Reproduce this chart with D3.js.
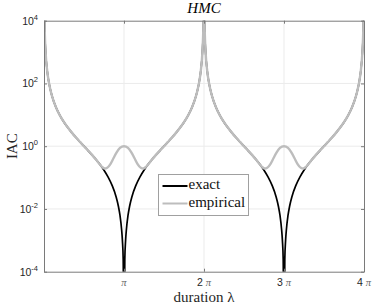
<!DOCTYPE html>
<html>
<head>
<meta charset="utf-8">
<script src="https://cdn.jsdelivr.net/npm/d3@7"></script>
<style>
  body { margin: 0; background: #fff; }
  svg { display: block; }
</style>
</head>
<body>
<div id="chart"></div>
<script>
// frame and plot box (MATLAB style)
const FRAME_WIDTH = 374;
const FRAME_HEIGHT = 304;
const MARGINS = {left: 44, right: 10, top: 20.7, bottom: 32.3};

// data: x in units of pi, IAC
const exactDuration = [0, 0.005, 0.01, 0.02, 0.04, 0.06, 0.08, 0.1, 0.15, 0.2, 0.25, 0.3, 0.35, 0.4, 0.45, 0.5,
  0.55, 0.6, 0.65, 0.7, 0.75, 0.8, 0.85, 0.9, 0.93, 0.95, 0.97, 0.98, 0.99, 1,
  1.01, 1.02, 1.03, 1.05, 1.07, 1.1, 1.15, 1.2, 1.25, 1.3, 1.35, 1.4, 1.45, 1.5,
  1.55, 1.6, 1.65, 1.7, 1.75, 1.8, 1.85, 1.9, 1.92, 1.94, 1.96, 1.98, 1.99, 1.995, 2,
  2.005, 2.01, 2.02, 2.04, 2.06, 2.08, 2.1, 2.15, 2.2, 2.25, 2.3, 2.35, 2.4, 2.45, 2.5,
  2.55, 2.6, 2.65, 2.7, 2.75, 2.8, 2.85, 2.9, 2.93, 2.95, 2.97, 2.98, 2.99, 3,
  3.01, 3.02, 3.03, 3.05, 3.07, 3.1, 3.15, 3.2, 3.25, 3.3, 3.35, 3.4, 3.45, 3.5,
  3.55, 3.6, 3.65, 3.7, 3.75, 3.8, 3.85, 3.9, 3.92, 3.94, 3.96, 3.98, 3.99, 3.995, 4];
const exactIAC = [1e8, 16200, 4050, 1010, 252, 112, 62.7, 39.9, 17.3, 9.47, 5.83, 3.85, 2.66, 1.89, 1.37, 1,
  0.73, 0.528, 0.375, 0.26, 0.172, 0.106, 0.0576, 0.0251, 0.0122, 0.00619, 0.00222, 0.000987, 0.000247, 1e-8,
  0.000247, 0.000987, 0.00222, 0.00619, 0.0122, 0.0251, 0.0576, 0.106, 0.172, 0.26, 0.375, 0.528, 0.73, 1,
  1.37, 1.89, 2.66, 3.85, 5.83, 9.47, 17.3, 39.9, 62.7, 112, 252, 1010, 4050, 16200, 1e8,
  16200, 4050, 1010, 252, 112, 62.7, 39.9, 17.3, 9.47, 5.83, 3.85, 2.66, 1.89, 1.37, 1,
  0.73, 0.528, 0.375, 0.26, 0.172, 0.106, 0.0576, 0.0251, 0.0122, 0.00619, 0.00222, 0.000987, 0.000247, 1e-8,
  0.000247, 0.000987, 0.00222, 0.00619, 0.0122, 0.0251, 0.0576, 0.106, 0.172, 0.26, 0.375, 0.528, 0.73, 1,
  1.37, 1.89, 2.66, 3.85, 5.83, 9.47, 17.3, 39.9, 62.7, 112, 252, 1010, 4050, 16200, 1e8];

const empiricalDuration = [0, 0.005, 0.01, 0.02, 0.04, 0.06, 0.08, 0.1, 0.15, 0.2, 0.25, 0.3, 0.35, 0.4, 0.45, 0.5,
  0.55, 0.6, 0.65, 0.7, 0.73, 0.76, 0.79, 0.83, 0.87, 0.91, 0.95, 1,
  1.05, 1.09, 1.13, 1.17, 1.21, 1.24, 1.27, 1.3, 1.35, 1.4, 1.45, 1.5,
  1.55, 1.6, 1.65, 1.7, 1.75, 1.8, 1.85, 1.9, 1.92, 1.94, 1.96, 1.98, 1.99, 1.995, 2,
  2.005, 2.01, 2.02, 2.04, 2.06, 2.08, 2.1, 2.15, 2.2, 2.25, 2.3, 2.35, 2.4, 2.45, 2.5,
  2.55, 2.6, 2.65, 2.7, 2.73, 2.76, 2.79, 2.83, 2.87, 2.91, 2.95, 3,
  3.05, 3.09, 3.13, 3.17, 3.21, 3.24, 3.27, 3.3, 3.35, 3.4, 3.45, 3.5,
  3.55, 3.6, 3.65, 3.7, 3.75, 3.8, 3.85, 3.9, 3.92, 3.94, 3.96, 3.98, 3.99, 3.995, 4];
const empiricalIAC = [1e8, 16200, 4050, 1010, 252, 112, 62.7, 39.9, 17.3, 9.47, 5.83, 3.85, 2.66, 1.89, 1.37, 1,
  0.73, 0.528, 0.375, 0.26, 0.215, 0.195, 0.205, 0.27, 0.42, 0.65, 0.88, 1.0,
  0.88, 0.65, 0.42, 0.27, 0.205, 0.195, 0.215, 0.26, 0.375, 0.528, 0.73, 1,
  1.37, 1.89, 2.66, 3.85, 5.83, 9.47, 17.3, 39.9, 62.7, 112, 252, 1010, 4050, 16200, 1e8,
  16200, 4050, 1010, 252, 112, 62.7, 39.9, 17.3, 9.47, 5.83, 3.85, 2.66, 1.89, 1.37, 1,
  0.73, 0.528, 0.375, 0.26, 0.215, 0.195, 0.205, 0.27, 0.42, 0.65, 0.88, 1.0,
  0.88, 0.65, 0.42, 0.27, 0.205, 0.195, 0.215, 0.26, 0.375, 0.528, 0.73, 1,
  1.37, 1.89, 2.66, 3.85, 5.83, 9.47, 17.3, 39.9, 62.7, 112, 252, 1010, 4050, 16200, 1e8];

// tick values and labels
const xTicks = [1, 2, 3, 4];
const xTickNumbers = ["", "2", "3", "4"];
const yTicks = [1e-4, 1e-2, 1, 1e2, 1e4];
const yTickExponents = ["-4", "-2", "0", "2", "4"];
const seriesNames = ["exact", "empirical"];
const seriesColors = ["#000000", "#bdbdbd"];

const VIS_WIDTH = FRAME_WIDTH - MARGINS.left - MARGINS.right;
const VIS_HEIGHT = FRAME_HEIGHT - MARGINS.top - MARGINS.bottom;

const svg = d3.select("#chart").append("svg")
  .attr("width", FRAME_WIDTH)
  .attr("height", FRAME_HEIGHT);

const xScale = d3.scaleLinear().domain([0, 4]).range([MARGINS.left, MARGINS.left + VIS_WIDTH]);
const yScale = d3.scaleLog().domain([1e-4, 1e4]).range([MARGINS.top + VIS_HEIGHT, MARGINS.top]);

// grid lines
svg.append("g").selectAll("line.gx")
  .data(xTicks.slice(0, 3))
  .enter().append("line")
    .attr("x1", d => xScale(d)).attr("x2", d => xScale(d))
    .attr("y1", MARGINS.top).attr("y2", MARGINS.top + VIS_HEIGHT)
    .attr("stroke", "#ebebeb").attr("stroke-width", 1);
svg.append("g").selectAll("line.gy")
  .data(yTicks.slice(1, 4))
  .enter().append("line")
    .attr("x1", MARGINS.left).attr("x2", MARGINS.left + VIS_WIDTH)
    .attr("y1", d => yScale(d)).attr("y2", d => yScale(d))
    .attr("stroke", "#ebebeb").attr("stroke-width", 1);

// clip for the curves
svg.append("clipPath").attr("id", "plotclip")
  .append("rect")
    .attr("x", MARGINS.left).attr("y", MARGINS.top)
    .attr("width", VIS_WIDTH).attr("height", VIS_HEIGHT);

const line = d3.line()
  .x(d => xScale(d[0]))
  .y(d => yScale(d[1]))
  .curve(d3.curveMonotoneX);

const exactData = exactDuration.map((t, i) => [t, exactIAC[i]]);
const empiricalData = empiricalDuration.map((t, i) => [t, empiricalIAC[i]]);

// black under gray; gray a touch wider so no dark fringe shows
const curves = svg.append("g").attr("clip-path", "url(#plotclip)");
curves.append("path")
  .datum(exactData)
  .attr("d", line)
  .attr("fill", "none")
  .attr("stroke", seriesColors[0])
  .attr("stroke-width", 1.7);
curves.append("path")
  .datum(empiricalData)
  .attr("d", line)
  .attr("fill", "none")
  .attr("stroke", seriesColors[1])
  .attr("stroke-width", 2.4);

// axes with inward ticks, box on
const axisColor = "#7a7a7a";
function styleAxis(g) {
  g.select(".domain").attr("stroke", axisColor);
  g.selectAll(".tick line").attr("stroke", axisColor);
  g.selectAll(".tick text").remove();
}
svg.append("g")
  .attr("transform", "translate(0," + (MARGINS.top + VIS_HEIGHT) + ")")
  .call(d3.axisBottom(xScale).tickValues(xTicks).tickSizeInner(-3).tickSizeOuter(0))
  .call(styleAxis);
svg.append("g")
  .attr("transform", "translate(0," + MARGINS.top + ")")
  .call(d3.axisTop(xScale).tickValues(xTicks).tickSizeInner(-3).tickSizeOuter(0))
  .call(styleAxis);
svg.append("g")
  .attr("transform", "translate(" + MARGINS.left + ",0)")
  .call(d3.axisLeft(yScale).tickValues(yTicks).tickSizeInner(-3).tickSizeOuter(0))
  .call(styleAxis);
svg.append("g")
  .attr("transform", "translate(" + (MARGINS.left + VIS_WIDTH) + ",0)")
  .call(d3.axisRight(yScale).tickValues(yTicks).tickSizeInner(-3).tickSizeOuter(0))
  .call(styleAxis);

// y tick labels 10^n
const yLab = svg.append("g").selectAll("text")
  .data(yTicks)
  .enter().append("text")
    .attr("x", 38)
    .attr("y", d => yScale(d) + 4)
    .attr("text-anchor", "end")
    .attr("font-family", "Liberation Sans, Arial, sans-serif")
    .attr("font-size", 10.5)
    .attr("fill", "#262626");
yLab.append("tspan").text("10");
yLab.append("tspan")
  .attr("dy", -5)
  .attr("font-size", 7.5)
  .text((d, i) => yTickExponents[i]);

// x tick labels n pi
const xLab = svg.append("g").selectAll("text")
  .data(xTicks)
  .enter().append("text")
    .attr("x", d => xScale(d))
    .attr("y", 286)
    .attr("text-anchor", "middle")
    .attr("font-size", 10.5)
    .attr("fill", "#262626");
xLab.append("tspan")
  .attr("font-family", "Liberation Sans, Arial, sans-serif")
  .text((d, i) => xTickNumbers[i] ? xTickNumbers[i] + " " : "");
xLab.append("tspan")
  .attr("font-family", "Liberation Serif, Times New Roman, serif")
  .attr("font-style", "italic")
  .attr("fill", "#666")
  .text("π");

// title and axis labels
svg.append("text")
  .attr("x", MARGINS.left + VIS_WIDTH / 2)
  .attr("y", 13)
  .attr("text-anchor", "middle")
  .attr("font-family", "Liberation Serif, Times New Roman, serif")
  .attr("font-style", "italic")
  .attr("font-size", 15)
  .text("HMC");

svg.append("text")
  .attr("x", MARGINS.left + VIS_WIDTH / 2)
  .attr("y", 302)
  .attr("text-anchor", "middle")
  .attr("font-family", "Liberation Serif, Times New Roman, serif")
  .attr("font-size", 15)
  .attr("fill", "#262626")
  .text("duration λ");

svg.append("text")
  .attr("transform", "translate(17," + (MARGINS.top + VIS_HEIGHT / 2) + ") rotate(-90)")
  .attr("text-anchor", "middle")
  .attr("font-family", "Liberation Serif, Times New Roman, serif")
  .attr("font-size", 15)
  .attr("fill", "#262626")
  .text("IAC");

// legend
const legend = svg.append("g").attr("transform", "translate(158.5,174.5)");
legend.append("rect")
  .attr("width", 90).attr("height", 41)
  .attr("fill", "#fff")
  .attr("stroke", "#a0a0a0");
seriesNames.forEach((name, i) => {
  const yy = 11.5 + i * 17.5;
  legend.append("line")
    .attr("x1", 4).attr("x2", 29)
    .attr("y1", yy).attr("y2", yy)
    .attr("stroke", seriesColors[i])
    .attr("stroke-width", 2);
  legend.append("text")
    .attr("x", 30).attr("y", yy + 3)
    .attr("font-family", "Liberation Serif, Times New Roman, serif")
    .attr("font-size", 15)
    .attr("fill", "#111")
    .text(name);
});
</script>
</body>
</html>
